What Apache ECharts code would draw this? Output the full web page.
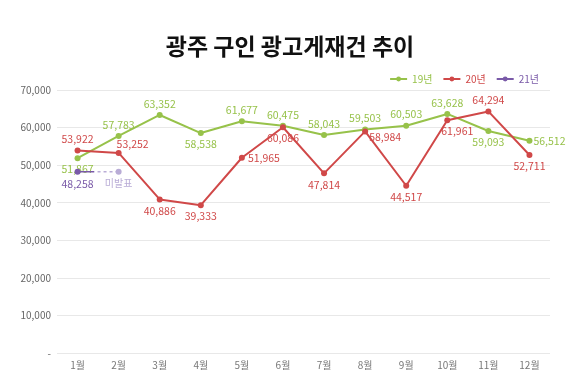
<!DOCTYPE html>
<html><head><meta charset="utf-8">
<script src="https://cdn.jsdelivr.net/npm/echarts@6/dist/echarts.min.js"></script>
<style>html,body{margin:0;padding:0;background:#fff}#c{width:580px;height:387px}</style>
</head><body><div id="c"></div>
<script>
const months = ['1월','2월','3월','4월','5월','6월','7월','8월','9월','10월','11월','12월'];
const s19 = [51867,57783,63352,58538,61677,60475,58043,59503,60503,63628,59093,56512];
const s20 = [53922,53252,40886,39333,51965,60086,47814,58984,44517,61961,64294,52711];
const s21 = [48258];
const s21pending = [48258,48258];
const pendingLabel = '미발표';
const pos19 = ['bottom','top','top','bottom','top','top','top','top','top','top','bottom','right'];
const pos20 = ['top','top','bottom','bottom','right','bottom','bottom','right','bottom','bottom','top','bottom'];

const C19='#97c24a', C20='#d04848', C21='#7a5aa8', C21L='#b9acd6';
const font='"Noto Sans CJK KR","Noto Sans",sans-serif';
function mk(vals,pos,color){
  return vals.map((v,i)=>{
    const lab={position:pos[i]};
    if(color===C20 && i===1){lab.offset=[14,2];}
    if(color===C20 && i===7){lab.offset=[-2,6];}
    if(color===C20 && i===9){lab.offset=[10,0];}
    if(color===C19 && i===11){lab.offset=[-2,0];}
    return {value:v,label:lab};
  });
}
const chart=echarts.init(document.getElementById('c'));
chart.setOption({
  animation:false,
  textStyle:{fontFamily:font},
  title:{text:'광주 구인 광고게재건 추이',left:'center',top:30,textStyle:{fontFamily:font,fontSize:23,fontWeight:'bold',color:'#111'}},
  legend:{right:36,top:69,itemWidth:17,itemHeight:6,itemGap:10,textStyle:{fontSize:10,fontFamily:font},
    data:[{name:'19년',textStyle:{color:C19}},{name:'20년',textStyle:{color:C20}},{name:'21년',textStyle:{color:C21}}]},
  grid:{left:57,right:30,top:90,bottom:34},
  xAxis:{type:'category',data:months,boundaryGap:true,axisLine:{show:false},axisTick:{show:false},
    axisLabel:{color:'#777',fontSize:10,margin:7,fontFamily:font}},
  yAxis:{type:'value',min:0,max:70000,interval:10000,axisLine:{show:false},axisTick:{show:false},
    splitLine:{lineStyle:{color:'#e8e8e8'}},
    axisLabel:{color:'#666',fontSize:10,margin:6,formatter:v=>v===0?'-':v.toLocaleString('en-US')}},
  series:[
    {name:'19년',type:'line',data:mk(s19,pos19,C19),color:C19,symbol:'circle',symbolSize:6,lineStyle:{width:2,color:C19},itemStyle:{color:C19},
      label:{show:true,color:C19,fontSize:10.5,distance:3,formatter:p=>p.value.toLocaleString('en-US')}},
    {name:'20년',type:'line',data:mk(s20,pos20,C20),color:C20,symbol:'circle',symbolSize:6,lineStyle:{width:2,color:C20},itemStyle:{color:C20},
      label:{show:true,color:C20,fontSize:10.5,distance:3,formatter:p=>p.value.toLocaleString('en-US')}},
    {name:'21년',type:'line',data:s21,color:C21,symbol:'circle',symbolSize:6,lineStyle:{width:2,color:C21},itemStyle:{color:C21},z:5,
      label:{show:true,position:'bottom',color:C21,fontSize:10.5,distance:4,formatter:p=>p.value.toLocaleString('en-US')}},
    {id:'pend',name:'21년p',type:'line',data:s21pending.map((v,i)=>i===0?{value:v,symbolSize:0}:{value:v,label:{show:true,formatter:pendingLabel}}),
      symbol:'circle',symbolSize:6,itemStyle:{color:C21L},z:4,
      lineStyle:{width:1.5,type:[17,3,3,3,3,3,3,3,3,3],color:C21L},
      label:{show:false,position:'bottom',color:C21L,fontSize:10,distance:4}}
  ]
});
const pA=chart.convertToPixel({gridIndex:0},[0,s21pending[0]]);
const pB=chart.convertToPixel({gridIndex:0},[1,s21pending[1]]);
chart.setOption({series:[{id:'pend',lineStyle:{width:1.5,type:[17,3,3,3,3,3,3,3,3,3],
  color:new echarts.graphic.LinearGradient(pA[0],0,pB[0],0,[{offset:0,color:C21},{offset:0.41,color:C21},{offset:0.41,color:C21L},{offset:1,color:C21L}],true)}}]});
</script></body></html>
